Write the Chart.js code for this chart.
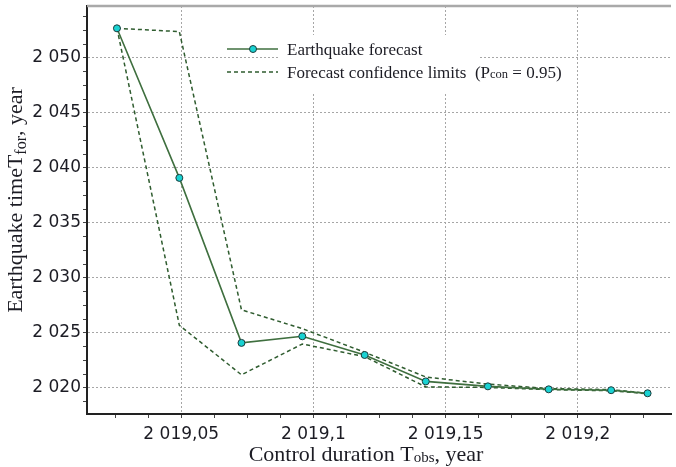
<!DOCTYPE html>
<html>
<head>
<meta charset="utf-8">
<script src="https://cdn.jsdelivr.net/npm/chart.js@4/dist/chart.umd.min.js"></script>
<style>
  html, body { margin: 0; padding: 0; background: #fff; }
  canvas { display: block; }
</style>
</head>
<body>
<canvas id="chart" width="676" height="467"></canvas>
<script>
// values
const controlYears  = [2019.0257, 2019.0493, 2019.0728, 2019.0958, 2019.1194, 2019.1425, 2019.166, 2019.189, 2019.2126, 2019.2264];
const forecastYears = [2052.7, 2039.1, 2024.1, 2024.7, 2023.0, 2020.6, 2020.15, 2019.88, 2019.8, 2019.52];
const upperLimit    = [2052.7, 2052.4, 2027.1, 2025.4, 2023.25, 2021.0, 2020.35, 2019.95, 2019.85, 2019.52];
const lowerLimit    = [2052.7, 2025.7, 2021.2, 2024.0, 2022.85, 2020.1, 2020.05, 2019.85, 2019.75, 2019.48];
const xRange = [2019.014375, 2019.23525];
const yRange = [2017.636, 2054.727];
const xStep = 0.0125, xMajor = 0.05;
const yStep = 1.25, yMajor = 5;

const el = id => document.getElementById(id);
const points = values => values.map((y, i) => ({ x: controlYears[i], y }));
const onStep = (v, step) => Math.abs(v / step - Math.round(v / step)) < 1e-4;
const group = s => s.replace(/\B(?=(\d{3})+(?!\d))/g, " ");
const yLabel = v => group(String(Math.round(v)));
const xLabel = v => {
  const [i, f] = String(+v.toFixed(2)).split(".");
  return group(i) + (f ? "," + f : "");
};
const stepTicks = step => scale => {
  const out = [];
  for (let k = Math.ceil(scale.min / step); k * step <= scale.max + 1e-9; k++) out.push({ value: +(k * step).toFixed(6) });
  scale.ticks = out;
};
const noPadding = scale => {
  scale.paddingTop = 0;
  scale.paddingBottom = 0;
  scale.paddingLeft = 0;
  scale.paddingRight = 0;
};

const GREEN = "#3f6f3f";
const DASH_GREEN = "#2f5c2f";
const CYAN = "#19d2d2";
const TEXT = "#1c1c24";
const SERIF = '"Liberation Serif", "Times New Roman", serif';

function drawParts(ctx, parts, x, y, align) {
  let total = 0;
  parts.forEach(p => { ctx.font = `${p.size}px ${SERIF}`; p.w = ctx.measureText(p.text).width; total += p.w; });
  let cx = align === "center" ? x - total / 2 : x;
  ctx.textAlign = "left";
  ctx.textBaseline = "alphabetic";
  parts.forEach(p => {
    ctx.font = `${p.size}px ${SERIF}`;
    ctx.fillText(p.text, cx, y + (p.dy || 0));
    cx += p.w;
  });
}

const decorations = {
  id: "decorations",
  beforeDatasetsDraw(chart) {
    const { ctx, chartArea: a } = chart;
    ctx.save();
    ctx.strokeStyle = "#a9a9a9";
    ctx.lineWidth = 2.5;
    ctx.beginPath();
    ctx.moveTo(a.left, a.top);
    ctx.lineTo(a.right, a.top);
    ctx.stroke();
    ctx.restore();
  },
  afterDraw(chart) {
    const { ctx } = chart;
    ctx.save();
    ctx.fillStyle = TEXT;
    // axis titles
    drawParts(ctx, [
      { text: "Control duration T", size: 22 },
      { text: "obs", size: 15, dy: 1 },
      { text: ", year", size: 22 }
    ], 366, 461, "center");
    ctx.save();
    ctx.translate(22, 200);
    ctx.rotate(-Math.PI / 2);
    drawParts(ctx, [
      { text: "Earthquake timeT", size: 22 },
      { text: "for", size: 16, dy: 4 },
      { text: ", year", size: 22 }
    ], 0, 0, "center");
    ctx.restore();

    // legend
    ctx.fillStyle = "#fff";
    ctx.fillRect(278, 35, 200, 58);
    ctx.fillRect(477, 62, 85, 20);
    const rows = [49, 72];
    ctx.lineWidth = 1.6;
    ctx.strokeStyle = GREEN;
    ctx.beginPath();
    ctx.moveTo(227, rows[0]);
    ctx.lineTo(278, rows[0]);
    ctx.stroke();
    ctx.fillStyle = CYAN;
    ctx.strokeStyle = "#1d3b3b";
    ctx.lineWidth = 1;
    ctx.beginPath();
    ctx.arc(253, rows[0], 3.5, 0, Math.PI * 2);
    ctx.fill();
    ctx.stroke();
    ctx.strokeStyle = DASH_GREEN;
    ctx.lineWidth = 1.5;
    ctx.setLineDash([4, 3]);
    ctx.beginPath();
    ctx.moveTo(227, rows[1]);
    ctx.lineTo(278, rows[1]);
    ctx.stroke();
    ctx.setLineDash([]);
    ctx.fillStyle = TEXT;
    drawParts(ctx, [{ text: "Earthquake forecast", size: 17 }], 287, rows[0] + 5.5, "left");
    drawParts(ctx, [
      { text: "Forecast confidence limits  (P", size: 17 },
      { text: "con", size: 12.5 },
      { text: " = 0.95)", size: 17 }
    ], 287, rows[1] + 5.5, "left");
    ctx.restore();
  }
};

new Chart(el("chart"), {
  type: "scatter",
  data: {
    datasets: [
      {
        label: "Earthquake forecast",
        data: points(forecastYears),
        showLine: true,
        borderColor: GREEN,
        borderWidth: 1.6,
        pointRadius: 3.5,
        pointBackgroundColor: CYAN,
        pointBorderColor: "#1d3b3b",
        pointBorderWidth: 1
      },
      {
        label: "Forecast confidence limits",
        data: points(upperLimit),
        showLine: true,
        borderColor: DASH_GREEN,
        borderWidth: 1.5,
        borderDash: [4, 3],
        pointRadius: 0
      },
      {
        label: "Forecast confidence limits",
        data: points(lowerLimit),
        showLine: true,
        borderColor: DASH_GREEN,
        borderWidth: 1.5,
        borderDash: [4, 3],
        pointRadius: 0
      }
    ]
  },
  options: {
    responsive: false,
    animation: false,
    devicePixelRatio: 1,
    layout: { padding: { top: 6, left: 0, right: 0, bottom: 0 } },
    plugins: { legend: { display: false }, tooltip: { enabled: false } },
    scales: {
      x: {
        type: "linear",
        min: xRange[0],
        max: xRange[1],
        afterBuildTicks: stepTicks(xStep),
        afterFit: scale => { scale.height = 53; noPadding(scale); },
        grid: {
          color: c => (c.tick && onStep(c.tick.value, xMajor) ? "#a6a6a6" : "rgba(0,0,0,0)"),
          lineWidth: 1,
          tickLength: 4,
          tickColor: "#444",
          tickWidth: 1
        },
        border: { color: "#222", width: 2, dash: [2, 2] },
        ticks: {
          autoSkip: false,
          maxRotation: 0,
          padding: 6,
          color: TEXT,
          font: { family: '"DejaVu Sans", sans-serif', size: 17 },
          callback: v => (onStep(v, xMajor) ? xLabel(v) : "")
        }
      },
      y: {
        min: yRange[0],
        max: yRange[1],
        afterBuildTicks: stepTicks(yStep),
        afterFit: scale => { scale.width = 87; noPadding(scale); },
        grid: {
          color: c => (c.tick && onStep(c.tick.value, yMajor) ? "#a6a6a6" : "rgba(0,0,0,0)"),
          lineWidth: 1,
          tickLength: 4,
          tickColor: "#444",
          tickWidth: 1
        },
        border: { color: "#222", width: 2, dash: [2, 2] },
        ticks: {
          autoSkip: false,
          padding: 2,
          color: TEXT,
          font: { family: '"DejaVu Sans", sans-serif', size: 17 },
          callback: v => (onStep(v, yMajor) ? yLabel(v) : "")
        }
      }
    }
  },
  plugins: [decorations]
});
</script>
</body>
</html>
